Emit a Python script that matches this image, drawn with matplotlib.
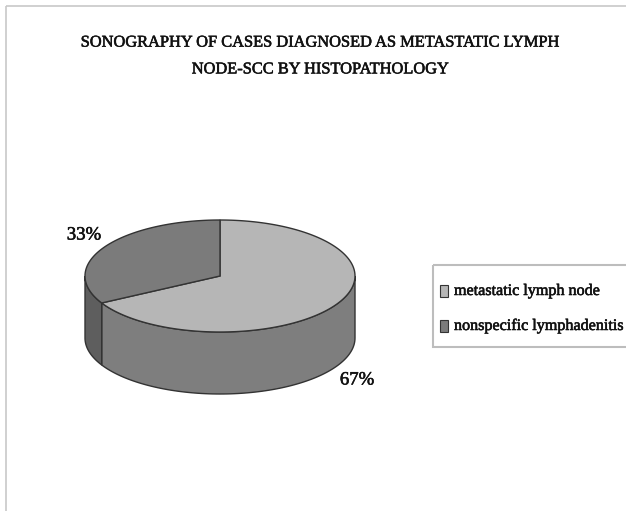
import numpy as np
import matplotlib.pyplot as plt
import matplotlib.patheffects as pe
from matplotlib.patches import Polygon, Rectangle

# data
labels = ['metastatic lymph node', 'nonspecific lymphadenitis']
values = [67, 33]
pct_text = ['67%', '33%']
title = 'SONOGRAPHY OF CASES DIAGNOSED AS METASTATIC LYMPH\nNODE-SCC BY HISTOPATHOLOGY'

top_colors = ['#b6b6b6', '#7b7b7b']
side_colors = ['#7e7e7e', '#5e5e5e']
edge = '#333333'

# slightly heavier look of the scanned serif text
heavy = [pe.withStroke(linewidth=0.4, foreground='#111111')]

fig = plt.figure(figsize=(6.26, 5.11), dpi=100)
ax = fig.add_axes([0, 0, 1, 1])
ax.set_xlim(0, 626)
ax.set_ylim(511, 0)
ax.axis('off')

# faint frame of the original chart area
ax.add_patch(Rectangle((6, 6), 640, 520, fill=False, ec='#c8c8c8', lw=1.2))

# pie geometry (pixels)
cx, cy, a, b, depth = 220, 276, 135, 56, 62

def pt(t, dy=0):
    return cx + a * np.cos(t), cy - b * np.sin(t) + dy

# slice angle ranges: first slice clockwise from 12 o'clock
total = sum(values)
spans = []
ang = np.pi / 2
for v in values:
    sweep = 2 * np.pi * v / total
    spans.append((ang - sweep, ang))
    ang -= sweep

# side walls, front half only
for (t0, t1), col in zip(spans, side_colors):
    lo = t0 % (2 * np.pi)
    hi = lo + (t1 - t0)
    for shift in (-2 * np.pi, 0, 2 * np.pi):
        s0, s1 = max(lo + shift, np.pi), min(hi + shift, 2 * np.pi)
        if s1 <= s0:
            continue
        tt = np.linspace(s0, s1, 100)
        xs, ys = pt(tt)
        xb, yb = pt(tt[::-1], depth)
        poly = np.column_stack([np.r_[xs, xb], np.r_[ys, yb]])
        ax.add_patch(Polygon(poly, closed=True, fc=col, ec=edge, lw=1.0, zorder=2))

# top faces
for (t0, t1), col in zip(spans, top_colors):
    tt = np.linspace(t0, t1, 200)
    xs, ys = pt(tt)
    poly = np.column_stack([np.r_[cx, xs], np.r_[cy, ys]])
    ax.add_patch(Polygon(poly, closed=True, fc=col, ec=edge, lw=1.0, zorder=3))

# percentage labels
ax.text(357, 380, pct_text[0], ha='center', va='center', fontsize=13.5,
        family='Liberation Serif', color='#111111', path_effects=heavy)
ax.text(84, 235, pct_text[1], ha='center', va='center', fontsize=13.5,
        family='Liberation Serif', color='#111111', path_effects=heavy)

# title
ax.text(320, 56, title, ha='center', va='center', fontsize=11.8,
        family='Liberation Serif', color='#111111', linespacing=1.9,
        path_effects=heavy)

# legend box
ax.add_patch(Rectangle((433, 265), 220, 82, fill=False, ec='#bdbdbd', lw=1.5))
for i, (lab, col) in enumerate(zip(labels, top_colors)):
    y = 291 + i * 35
    ax.add_patch(Rectangle((440, y - 6), 8, 12, fc=col, ec='#333333', lw=0.8))
    ax.text(454, y, lab, ha='left', va='center', fontsize=11.6,
            family='Liberation Serif', color='#111111', path_effects=heavy)

fig.savefig('out.png', dpi=100)
